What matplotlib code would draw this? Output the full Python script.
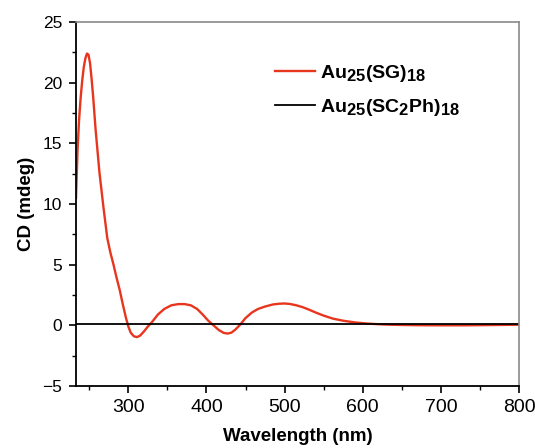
import matplotlib
matplotlib.use("Agg")
import matplotlib.pyplot as plt
import matplotlib._mathtext as _mt
from matplotlib.ticker import MultipleLocator

plt.rcParams['font.family'] = ['Liberation Sans', 'DejaVu Sans']
plt.rcParams['mathtext.fontset'] = 'custom'
plt.rcParams['mathtext.rm'] = 'Liberation Sans:bold'
plt.rcParams['mathtext.bf'] = 'Liberation Sans:bold'
plt.rcParams['mathtext.it'] = 'Liberation Sans:bold'
_mt.SHRINK_FACTOR = 0.85

# Data
wl_sg = [233, 235, 237, 239, 241, 243, 245, 247, 249, 251, 253, 255, 258, 263, 268, 273, 277,
         281, 285, 289, 293, 297, 300, 303, 307, 311, 315, 320, 325, 330, 338, 346, 355, 364,
         372, 380, 388, 395, 402, 409, 416, 422, 427, 432, 437, 443, 450, 458, 466,
         475, 485, 493, 500, 507, 515, 523, 531, 540, 550, 562, 575, 590, 605, 620,
         635, 650, 670, 700, 730, 760, 800]
cd_sg = [10.5, 14.5, 17.0, 18.8, 20.2, 21.3, 22.0, 22.4, 22.3, 21.6, 20.3, 18.8, 16.2, 12.6, 9.8,
         7.2, 6.0, 5.0, 3.9, 2.9, 1.7, 0.6, -0.1, -0.6, -0.9, -0.97, -0.85, -0.5, -0.1, 0.25,
         0.9, 1.35, 1.65, 1.75, 1.75, 1.65, 1.35, 0.9, 0.4, 0.0, -0.4, -0.62, -0.68, -0.6,
         -0.35, 0.05, 0.6, 1.05, 1.35, 1.55, 1.72, 1.78, 1.8, 1.76, 1.65, 1.5, 1.3, 1.05, 0.8,
         0.55, 0.38, 0.24, 0.15, 0.09, 0.05, 0.03, 0.01, 0.0, 0.0, 0.02, 0.05]
wl_ph = [233, 800]
cd_ph = [0.1, 0.1]

labels = [r'$\mathbf{Au_{25}(SG)_{18}}$', r'$\mathbf{Au_{25}(SC_{2}Ph)_{18}}$']
x_ticks = [300, 400, 500, 600, 700, 800]
y_ticks = [-5, 0, 5, 10, 15, 20, 25]

fig = plt.figure(figsize=(5.35, 4.48), dpi=100)
ax = fig.add_axes([76/535, 1-386/448, (519-76)/535, (386-22)/448])

ax.plot(wl_sg, cd_sg, color='#e8361e', lw=1.7, label=labels[0])
ax.plot(wl_ph, cd_ph, color='black', lw=1.3, label=labels[1])

ax.set_xlim(233, 800)
ax.set_ylim(-5, 25)
ax.set_xticks(x_ticks)
ax.set_yticks(y_ticks)
ax.xaxis.set_minor_locator(MultipleLocator(50))
ax.yaxis.set_minor_locator(MultipleLocator(2.5))
ax.tick_params(which='major', direction='out', length=5, width=1.2,
               top=False, right=False)
ax.tick_params(axis='x', which='major', labelsize=14, pad=4)
ax.tick_params(axis='y', which='major', labelsize=12.5, pad=5)
ax.tick_params(which='minor', direction='out', length=3, width=1.0, top=False, right=False)

for s in ['left', 'bottom']:
    ax.spines[s].set_linewidth(1.3)
    ax.spines[s].set_color('black')
for s in ['top', 'right']:
    ax.spines[s].set_linewidth(1.2)
    ax.spines[s].set_color('#8a8a8a')

ax.set_xlabel('Wavelength (nm)', fontsize=13.5, fontweight='bold', labelpad=9)
ax.set_ylabel('CD (mdeg)', fontsize=13.5, fontweight='bold', labelpad=5)

ax.legend(loc='upper left', bbox_to_anchor=(0.431, 0.91), frameon=False,
          fontsize=14, handlelength=2.05, handletextpad=0.3, labelspacing=0.7,
          borderaxespad=0)

fig.savefig('out.png', dpi=100)
